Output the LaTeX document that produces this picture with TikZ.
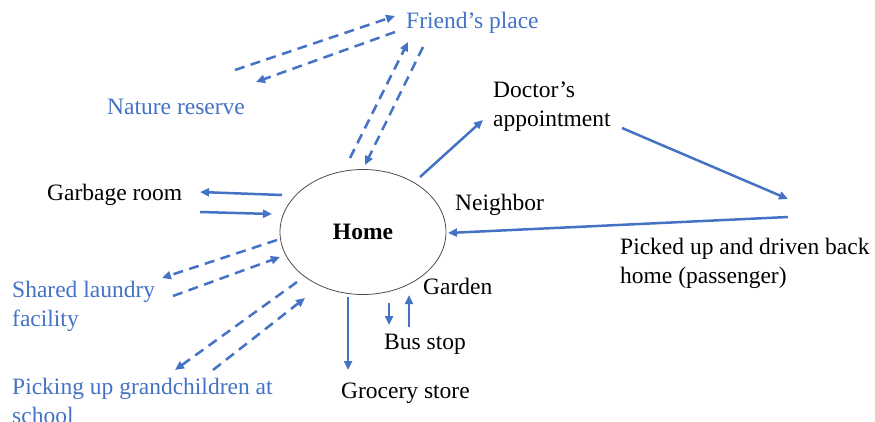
\documentclass[tikz,border=0pt]{standalone}
\usepackage{fontspec}
\setmainfont{Liberation Serif}
\usepackage{xcolor}
\usepackage{tikz}
\usetikzlibrary{shapes.geometric,arrows.meta,positioning}

\definecolor{hblue}{HTML}{4472C4}
\newcommand{\lblfont}{\fontsize{23.5}{29}\selectfont}

\begin{document}
\begin{tikzpicture}[
    x=1pt, y=-1pt,
    lbl/.style={font=\lblfont, inner sep=0pt, anchor=west, align=left},
    place/.style={lbl, text=hblue},
    arrow/.style={-{Triangle[length=9pt,width=8pt]}, line width=2.5pt, draw=hblue},
    dasharrow/.style={arrow, dash pattern=on 10pt off 6.5pt}
]
\useasboundingbox (0,0) rectangle (875,421);

\node[ellipse, draw=black!70, line width=0.8pt, minimum width=166pt, minimum height=125pt, font=\lblfont\bfseries] (home) at (363,232) {Home};

\node[place] (friend) at (406,22.5) {Friend’s place};
\node[place] (nature) at (107,107) {Nature reserve};
\node[lbl] (doctor) at (493,107) {Doctor’s\\appointment};
\node[lbl] (neighbor) at (455,205) {Neighbor};
\node[lbl] (picked) at (620,263) {Picked up and driven back\\home (passenger)};
\node[lbl] (garbage) at (47,194.5) {Garbage room};
\node[place] (laundry) at (12,306) {Shared laundry\\facility};
\node[place] (school) at (12,401) {Picking up grandchildren at\\school};
\node[lbl] (garden) at (423,286) {Garden};
\node[lbl] (bus) at (384,344) {Bus stop};
\node[lbl] (grocery) at (341,393.5) {Grocery store};

% arrow ends
\coordinate (nat-out) at (235,70);  \coordinate (fr-in1) at (395,16);
\coordinate (fr-out1) at (395,32);  \coordinate (nat-in) at (256,82);
\coordinate (hm-up) at (350,158);   \coordinate (fr-in2) at (408,42);
\coordinate (fr-out2) at (423,47);  \coordinate (hm-fr) at (365,165);
\coordinate (hm-doc) at (420,177);  \coordinate (doc-in) at (483,120);
\coordinate (doc-out) at (622,128); \coordinate (pk-in) at (788,199);
\coordinate (pk-out) at (788,217);  \coordinate (hm-pk) at (448,233);
\coordinate (hm-gb) at (282,195);   \coordinate (gb-in) at (200,192);
\coordinate (gb-out) at (200,212);  \coordinate (hm-gbin) at (272,214);
\coordinate (hm-la) at (277,240);   \coordinate (la-in) at (162,278);
\coordinate (la-out) at (173,296);  \coordinate (hm-lain) at (280,257);
\coordinate (hm-sc) at (297,282);   \coordinate (sc-in) at (175,370);
\coordinate (sc-out) at (213,370);  \coordinate (hm-scin) at (305,298);
\coordinate (hm-bus) at (389,303);  \coordinate (bus-in) at (389,325);
\coordinate (bus-out) at (409,327); \coordinate (hm-busin) at (409,295);
\coordinate (hm-gr) at (348,297);   \coordinate (gr-in) at (348,370);

\draw[dasharrow] (nat-out) -- (fr-in1);
\draw[dasharrow] (fr-out1) -- (nat-in);
\draw[dasharrow] (hm-up) -- (fr-in2);
\draw[dasharrow] (fr-out2) -- (hm-fr);
\draw[arrow] (hm-doc) -- (doc-in);
\draw[arrow] (doc-out) -- (pk-in);
\draw[arrow] (pk-out) -- (hm-pk);
\draw[arrow] (hm-gb) -- (gb-in);
\draw[arrow] (gb-out) -- (hm-gbin);
\draw[dasharrow] (hm-la) -- (la-in);
\draw[dasharrow] (la-out) -- (hm-lain);
\draw[dasharrow] (hm-sc) -- (sc-in);
\draw[dasharrow] (sc-out) -- (hm-scin);
\draw[arrow] (hm-bus) -- (bus-in);
\draw[arrow] (bus-out) -- (hm-busin);
\draw[arrow] (hm-gr) -- (gr-in);
\end{tikzpicture}
\end{document}
